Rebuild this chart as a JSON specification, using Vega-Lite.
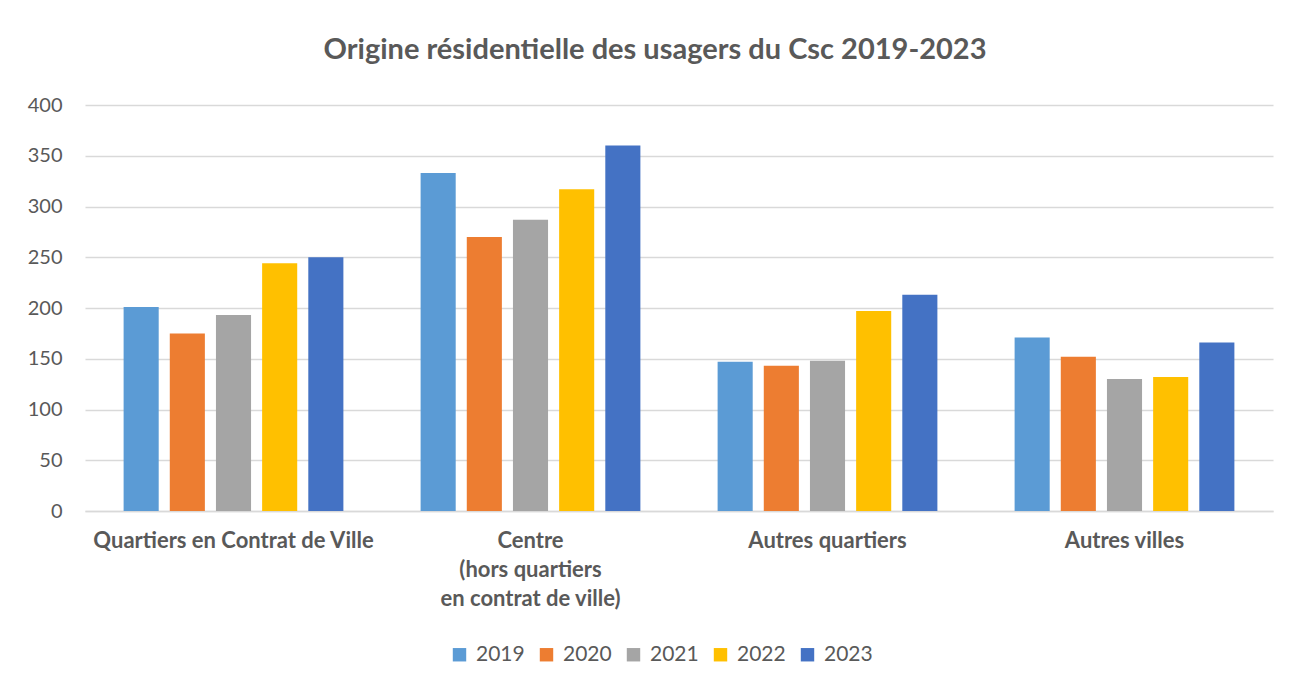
{
  "$schema": "https://vega.github.io/schema/vega-lite/v6.json",
  "autosize": "none",
  "width": 1188,
  "height": 406,
  "padding": {"left": 85, "top": 105, "right": 22, "bottom": 173},
  "background": "white",
  "title": {
    "text": "Origine résidentielle des usagers du Csc 2019-2023",
    "font": "Lato",
    "fontSize": 29,
    "fontWeight": "bold",
    "color": "#595959",
    "anchor": "middle",
    "dx": -24,
    "offset": 30
  },
  "config": {
    "view": {"stroke": null},
    "font": "Lato"
  },
  "data": {
    "values": [
      {"zone": "Quartiers en Contrat de Ville", "annee": "2019", "usagers": 201},
      {"zone": "Quartiers en Contrat de Ville", "annee": "2020", "usagers": 175},
      {"zone": "Quartiers en Contrat de Ville", "annee": "2021", "usagers": 193},
      {"zone": "Quartiers en Contrat de Ville", "annee": "2022", "usagers": 244},
      {"zone": "Quartiers en Contrat de Ville", "annee": "2023", "usagers": 250},
      {"zone": "Centre (hors quartiers en contrat de ville)", "annee": "2019", "usagers": 333},
      {"zone": "Centre (hors quartiers en contrat de ville)", "annee": "2020", "usagers": 270},
      {"zone": "Centre (hors quartiers en contrat de ville)", "annee": "2021", "usagers": 287},
      {"zone": "Centre (hors quartiers en contrat de ville)", "annee": "2022", "usagers": 317},
      {"zone": "Centre (hors quartiers en contrat de ville)", "annee": "2023", "usagers": 360},
      {"zone": "Autres quartiers", "annee": "2019", "usagers": 147},
      {"zone": "Autres quartiers", "annee": "2020", "usagers": 143},
      {"zone": "Autres quartiers", "annee": "2021", "usagers": 148},
      {"zone": "Autres quartiers", "annee": "2022", "usagers": 197},
      {"zone": "Autres quartiers", "annee": "2023", "usagers": 213},
      {"zone": "Autres villes", "annee": "2019", "usagers": 171},
      {"zone": "Autres villes", "annee": "2020", "usagers": 152},
      {"zone": "Autres villes", "annee": "2021", "usagers": 130},
      {"zone": "Autres villes", "annee": "2022", "usagers": 132},
      {"zone": "Autres villes", "annee": "2023", "usagers": 166}
    ]
  },
  "mark": {"type": "bar"},
  "encoding": {
    "x": {
      "field": "zone",
      "type": "nominal",
      "sort": null,
      "title": null,
      "scale": {"paddingInner": 0.26, "paddingOuter": 0.13},
      "axis": {
        "labelAngle": 0,
        "labelFontSize": 22,
        "labelFontWeight": "bold",
        "labelColor": "#595959",
        "labelPadding": 19,
        "labelLineHeight": 29,
        "labelBaseline": "top",
        "labelLimit": 400,
        "labelExpr": "datum.value == 'Centre (hors quartiers en contrat de ville)' ? ['Centre', '(hors quartiers', 'en contrat de ville)'] : datum.value",
        "ticks": false,
        "domainColor": "#d9d9d9",
        "domainWidth": 1.5
      }
    },
    "xOffset": {
      "field": "annee",
      "type": "nominal",
      "scale": {"paddingInner": 0.24, "paddingOuter": 0}
    },
    "y": {
      "field": "usagers",
      "type": "quantitative",
      "title": null,
      "scale": {"domain": [0, 400], "nice": false},
      "axis": {
        "values": [0, 50, 100, 150, 200, 250, 300, 350, 400],
        "labelFontSize": 20,
        "labelColor": "#595959",
        "labelPadding": 23,
        "ticks": false,
        "domain": false,
        "gridColor": "#d9d9d9",
        "gridWidth": 1.5
      }
    },
    "color": {
      "field": "annee",
      "type": "nominal",
      "title": null,
      "scale": {
        "domain": ["2019", "2020", "2021", "2022", "2023"],
        "range": ["#5B9BD5", "#ED7D31", "#A5A5A5", "#FFC000", "#4472C4"]
      },
      "legend": {
        "orient": "none",
        "direction": "horizontal",
        "legendX": 364,
        "legendY": 539,
        "symbolType": "square",
        "symbolSize": 180,
        "symbolStrokeWidth": 0,
        "labelFontSize": 21,
        "labelColor": "#595959",
        "columnPadding": 11,
        "labelOffset": 6
      }
    }
  }
}
